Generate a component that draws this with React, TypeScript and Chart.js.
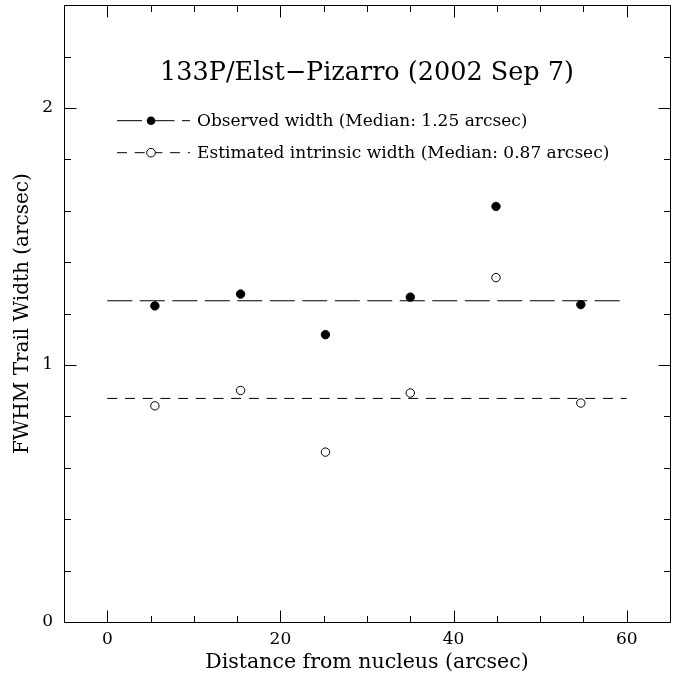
import React, { useEffect, useRef } from "react";
import { Chart, registerables } from "chart.js";

Chart.register(...registerables);

// ---- data ----
const distances = [5.5, 15.4, 25.2, 35.0, 44.9, 54.7];
const observedWidth = [1.23, 1.276, 1.118, 1.264, 1.617, 1.235];
const intrinsicWidth = [0.841, 0.901, 0.661, 0.891, 1.34, 0.852];
const observedMedian = 1.25;
const intrinsicMedian = 0.87;
const medianRange = [0, 60];

// ---- axes ----
const xMin = -5;
const xMax = 65;
const yMin = 0;
const yMax = 2.4;
const xLabelTicks = [0, 20, 40, 60];
const xMinorTicks = [0, 5, 10, 15, 20, 25, 30, 35, 40, 45, 50, 55, 60];
const yLabelTicks = [0, 1, 2];
const yMinorTicks = [0, 0.2, 0.4, 0.6, 0.8, 1, 1.2, 1.4, 1.6, 1.8, 2, 2.2, 2.4];

// ---- text ----
const titleText = "133P/Elst\u2212Pizarro (2002 Sep 7)";
const xTitle = "Distance from nucleus (arcsec)";
const yTitle = "FWHM Trail Width (arcsec)";
const legendLabels = [
  "Observed width (Median: 1.25 arcsec)",
  "Estimated intrinsic width (Median: 0.87 arcsec)",
];

const FONT = "'DejaVu Serif', serif";
const LONG_DASH = [25, 7.5];
const SHORT_DASH = [10, 7.7];

const decorPlugin = {
  id: "decor",
  afterDraw(chart: any) {
    const { ctx, chartArea, scales } = chart;
    const { left, right, top, bottom } = chartArea;
    const xs = scales.x;
    const ys = scales.y;
    ctx.save();
    ctx.strokeStyle = "#000";
    ctx.lineWidth = 1;
    ctx.setLineDash([]);
    const L = Math.round(left) + 0.5;
    const R = Math.round(right) + 0.5;
    const T = Math.round(top) + 0.5;
    const B = Math.round(bottom) + 0.5;
    ctx.beginPath();
    ctx.rect(L, T, R - L, B - T);
    ctx.stroke();

    const major = 12;
    const minor = 6.5;
    ctx.beginPath();
    for (const v of xMinorTicks) {
      const px = Math.round(xs.getPixelForValue(v)) + 0.5;
      const len = xLabelTicks.includes(v) ? major : minor;
      ctx.moveTo(px, B);
      ctx.lineTo(px, B - len);
      ctx.moveTo(px, T);
      ctx.lineTo(px, T + len);
    }
    for (const v of yMinorTicks) {
      const py = Math.round(ys.getPixelForValue(v)) + 0.5;
      const len = yLabelTicks.includes(v) ? major : minor;
      ctx.moveTo(L, py);
      ctx.lineTo(L + len, py);
      ctx.moveTo(R, py);
      ctx.lineTo(R - len, py);
    }
    ctx.stroke();

    // title inside plot
    ctx.fillStyle = "#000";
    ctx.font = `25.5px ${FONT}`;
    ctx.textAlign = "center";
    ctx.textBaseline = "middle";
    ctx.fillText(titleText, (left + right) / 2, top + 68);

    // legend inside plot
    const sx0 = left + 53;
    const sx1 = left + 126;
    const mx = left + 87;
    const rows = [
      { y: top + 115, dash: LONG_DASH, filled: true },
      { y: top + 147, dash: SHORT_DASH, filled: false },
    ];
    ctx.font = `17px ${FONT}`;
    ctx.textAlign = "left";
    rows.forEach((r, i) => {
      ctx.beginPath();
      ctx.setLineDash(r.dash);
      ctx.moveTo(sx0, r.y + 0.5);
      ctx.lineTo(sx1, r.y + 0.5);
      ctx.stroke();
      ctx.setLineDash([]);
      ctx.beginPath();
      ctx.arc(mx, r.y + 0.5, 4.3, 0, Math.PI * 2);
      if (r.filled) {
        ctx.fillStyle = "#000";
        ctx.fill();
      } else {
        ctx.fillStyle = "#fff";
        ctx.fill();
        ctx.stroke();
      }
      ctx.fillStyle = "#000";
      ctx.fillText(legendLabels[i], left + 133, r.y + 1);
    });
    ctx.restore();
  },
};

export default function App() {
  const ref = useRef<HTMLCanvasElement | null>(null);
  useEffect(() => {
    if (!ref.current) return;
    const chart = new Chart(ref.current, {
      type: "scatter",
      data: {
        datasets: [
          {
            label: "observed",
            data: distances.map((d, i) => ({ x: d, y: observedWidth[i] })),
            pointRadius: 4.2,
            pointBorderWidth: 1,
            pointBackgroundColor: "#000",
            pointBorderColor: "#000",
            showLine: false,
          },
          {
            label: "intrinsic",
            data: distances.map((d, i) => ({ x: d, y: intrinsicWidth[i] })),
            pointRadius: 4.2,
            pointBorderWidth: 1,
            pointBackgroundColor: "#fff",
            pointBorderColor: "#000",
            showLine: false,
          },
          {
            label: "observed median",
            data: medianRange.map((d) => ({ x: d, y: observedMedian })),
            showLine: true,
            borderColor: "#000",
            borderWidth: 1,
            borderDash: LONG_DASH,
            pointRadius: 0,
          },
          {
            label: "intrinsic median",
            data: medianRange.map((d) => ({ x: d, y: intrinsicMedian })),
            showLine: true,
            borderColor: "#000",
            borderWidth: 1,
            borderDash: SHORT_DASH,
            pointRadius: 0,
          },
        ],
      },
      options: {
        animation: false,
        responsive: false,
        devicePixelRatio: 1,
        layout: { padding: { top: 4, right: 24, left: 0, bottom: 0 } },
        plugins: {
          legend: { display: false },
          tooltip: { enabled: false },
        },
        scales: {
          x: {
            type: "linear",
            min: xMin,
            max: xMax,
            grid: { display: false, drawTicks: false },
            border: { display: false },
            afterBuildTicks: (s: any) => {
              s.ticks = xLabelTicks.map((v) => ({ value: v }));
            },
            afterFit: (s: any) => {
              s.height = 57;
              s.paddingLeft = 0;
              s.paddingRight = 0;
            },
            ticks: {
              autoSkip: false,
              maxRotation: 0,
              padding: 7,
              color: "#000",
              font: { family: FONT, size: 17 },
            },
            title: {
              display: true,
              text: xTitle,
              color: "#000",
              font: { family: FONT, size: 20.5 },
              padding: { top: 0, bottom: 4 },
            },
          },
          y: {
            type: "linear",
            min: yMin,
            max: yMax,
            grid: { display: false, drawTicks: false },
            border: { display: false },
            afterBuildTicks: (s: any) => {
              s.ticks = yLabelTicks.map((v) => ({ value: v }));
            },
            afterFit: (s: any) => {
              s.width = 64;
              s.paddingTop = 0;
              s.paddingBottom = 0;
            },
            ticks: {
              autoSkip: false,
              padding: 11,
              color: "#000",
              font: { family: FONT, size: 17 },
            },
            title: {
              display: true,
              text: yTitle,
              color: "#000",
              font: { family: FONT, size: 20 },
              padding: { top: 10.5, bottom: 0 },
            },
          },
        },
      },
      plugins: [decorPlugin],
    } as any);
    return () => chart.destroy();
  }, []);
  return (
    <div style={{ position: "absolute", left: 0, top: 0, width: 694, height: 679, background: "#fff" }}>
      <canvas ref={ref} width={694} height={679} style={{ display: "block" }} />
    </div>
  );
}
